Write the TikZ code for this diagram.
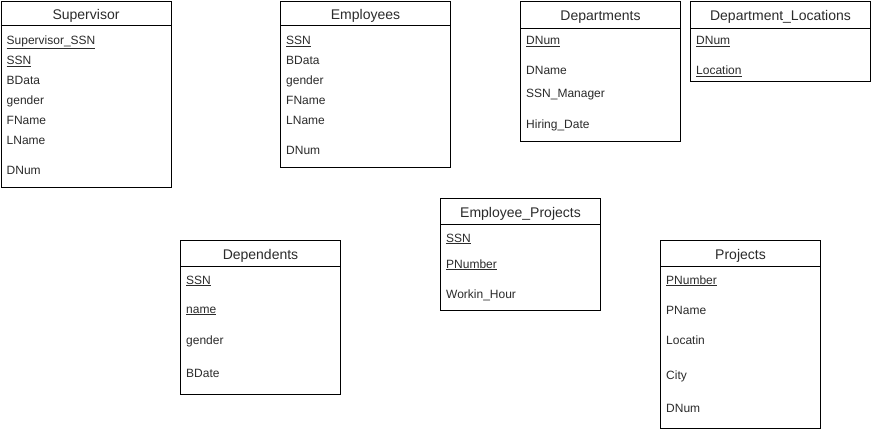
\documentclass[tikz,border=0pt]{standalone}
\usepackage{fontspec}
\setmainfont{Liberation Sans}
\usetikzlibrary{positioning,calc}
\definecolor{ergray}{HTML}{2B2B2B}
\tikzset{
  tablebox/.style={draw=black, line width=1pt, fill=white, inner sep=0pt, anchor=north west},
  tabtitle/.style={font=\fontsize{14}{16}\selectfont, text=ergray, inner sep=0pt, anchor=base},
  attr/.style    ={font=\fontsize{12}{14}\selectfont, text=ergray, inner sep=0pt, anchor=base west},
  rule/.style    ={line width=1pt, draw=black},
}
\newcommand{\keyattr}[1]{\underline{#1}}
% table: name, title, x, y, width, height, title band
\newcommand{\ertable}[7]{%
  \node[tablebox, minimum width=#5, minimum height=#6] (#1) at (#3,#4) {};
  \node[tabtitle] (#1-title) at ($(#1.north)+(0,#7/2+6)$) {#2};
  \draw[rule] ([yshift=-#7 pt]#1.north west) -- ([yshift=-#7 pt]#1.north east);}

\begin{document}
\begin{tikzpicture}[x=1pt, y=-1pt]
  \useasboundingbox (0,0) rectangle (871,432);
  % top row
  \ertable{sup}{Supervisor}{0.5}{0.5}{170}{186}{25}
  \foreach \yy/\txt [count=\i] in {44/\keyattr{Supervisor\_SSN}, 64/\keyattr{SSN},
      84/BData, 104/gender, 124/FName, 144/LName, 174/DNum}
    \node[attr] (sup-\i) at ([xshift=6pt, yshift=-\yy pt]sup.north west) {\txt};
  \ertable{emp}{Employees}{280}{0.5}{170}{166}{25}
  \foreach \yy/\txt [count=\i] in {44/\keyattr{SSN}, 64/BData, 84/gender,
      104/FName, 124/LName, 154/DNum}
    \node[attr] (emp-\i) at ([xshift=6pt, yshift=-\yy pt]emp.north west) {\txt};
  \ertable{dept}{Departments}{520}{0.5}{160}{140}{28}
  \foreach \yy/\txt [count=\i] in {44/\keyattr{DNum}, 74/DName, 97/SSN\_Manager,
      128/Hiring\_Date}
    \node[attr] (dept-\i) at ([xshift=6pt, yshift=-\yy pt]dept.north west) {\txt};
  \ertable{deptloc}{Department\_Locations}{690}{0.5}{180}{80}{28}
  \foreach \yy/\txt [count=\i] in {44/\keyattr{DNum}, 74/\keyattr{Location}}
    \node[attr] (deptloc-\i) at ([xshift=6pt, yshift=-\yy pt]deptloc.north west) {\txt};
  % lower row
  \ertable{empproj}{Employee\_Projects}{440}{198}{160}{112}{26}
  \foreach \yy/\txt [count=\i] in {44/\keyattr{SSN}, 70/\keyattr{PNumber},
      100/Workin\_Hour}
    \node[attr] (empproj-\i) at ([xshift=6pt, yshift=-\yy pt]empproj.north west) {\txt};
  \ertable{dep}{Dependents}{180}{240}{160}{154}{26}
  \foreach \yy/\txt [count=\i] in {44/\keyattr{SSN}, 73/\keyattr{name}, 104/gender,
      137/BDate}
    \node[attr] (dep-\i) at ([xshift=6pt, yshift=-\yy pt]dep.north west) {\txt};
  \ertable{proj}{Projects}{660}{240}{160}{188}{26}
  \foreach \yy/\txt [count=\i] in {44/\keyattr{PNumber}, 74/PName, 104/Locatin,
      139/City, 172/DNum}
    \node[attr] (proj-\i) at ([xshift=6pt, yshift=-\yy pt]proj.north west) {\txt};
\end{tikzpicture}
\end{document}
